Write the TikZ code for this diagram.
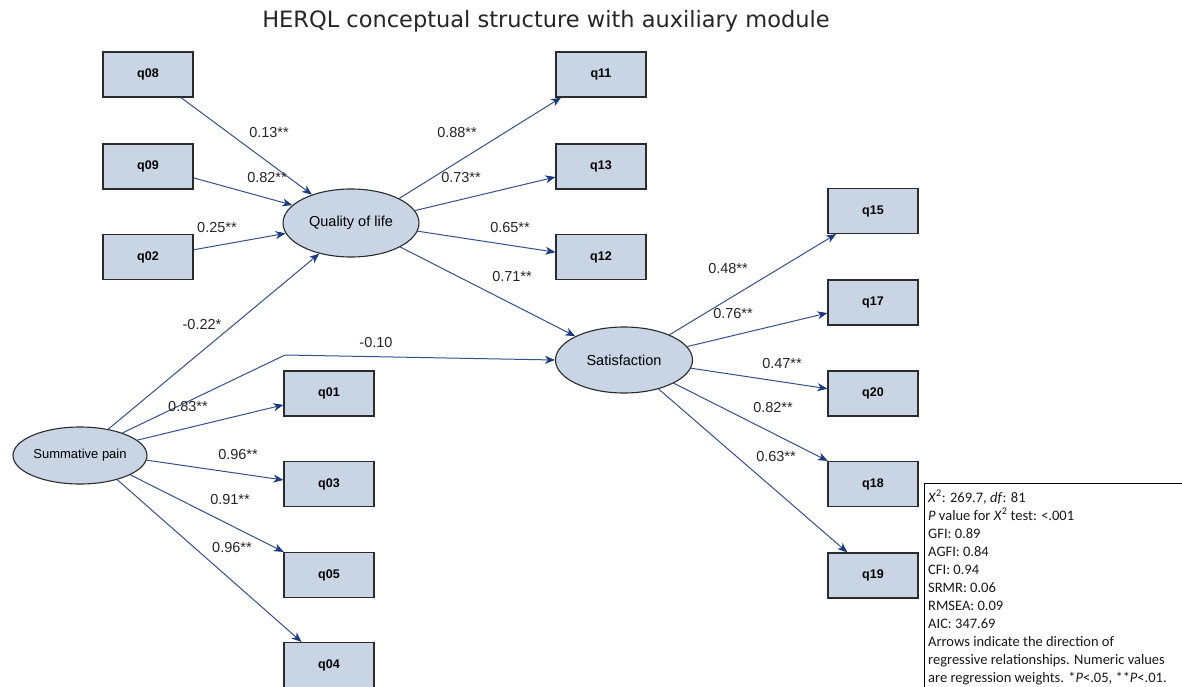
\documentclass[tikz,border=0pt]{standalone}
\usepackage{fontspec}
\setmainfont{Liberation Sans}
\newfontfamily\titlefont{DejaVu Sans}
\newfontfamily\statfont{Carlito}
\usetikzlibrary{shapes.geometric,arrows.meta}
\definecolor{boxfill}{HTML}{C9D5E5}
\definecolor{edgecol}{HTML}{34508A}
\definecolor{tipcol}{HTML}{1B3A80}
\definecolor{bordercol}{HTML}{2B2B2B}
\tikzset{
  obsbox/.style={draw=bordercol, line width=1.1pt, fill=boxfill, minimum width=90pt, minimum height=45pt, inner sep=0pt, font=\fontsize{12.5}{12.5}\selectfont\bfseries},
  latent/.style={ellipse, draw=bordercol, line width=1.1pt, fill=boxfill, inner sep=0pt, font=\fontsize{14.5}{14.5}\selectfont},
  path/.style={draw=edgecol, line width=1pt, -{Stealth[length=10pt,width=8pt,inset=3pt,color=tipcol]}},
  wlab/.style={font=\fontsize{14.5}{14.5}\selectfont, inner sep=0pt, text=black!85},
}
\begin{document}
\begin{tikzpicture}[x=1pt,y=-1pt]
\useasboundingbox (0,0) rectangle (1182,687);
\fill[white] (0,0) rectangle (1182,687);

\node[font=\titlefont\fontsize{22.5}{22.5}\selectfont, text=black!85] (title) at (546,21) {HERQL conceptual structure with auxiliary module};

% latent variables
\node[latent, minimum width=136pt, minimum height=68pt] (qol) at (351,223) {Quality of life};
\node[latent, minimum width=137pt, minimum height=66pt] (sat) at (624,360) {Satisfaction};
\node[latent, minimum width=134pt, minimum height=57pt, font=\fontsize{13}{13}\selectfont] (sp) at (80,455.5) {Summative pain};

% indicators
\node[obsbox] (q08) at (148,74.5) {q08};
\node[obsbox] (q09) at (148,166.5) {q09};
\node[obsbox] (q02) at (148,257) {q02};
\node[obsbox] (q11) at (601,74.5) {q11};
\node[obsbox] (q13) at (601,166.5) {q13};
\node[obsbox] (q12) at (601,257) {q12};
\node[obsbox] (q15) at (873,211) {q15};
\node[obsbox] (q17) at (873,302.5) {q17};
\node[obsbox] (q20) at (873,393.5) {q20};
\node[obsbox] (q18) at (873,484) {q18};
\node[obsbox] (q19) at (873,575.5) {q19};
\node[obsbox] (q01) at (329,393.5) {q01};
\node[obsbox] (q03) at (329,484) {q03};
\node[obsbox] (q05) at (329,575) {q05};
\node[obsbox] (q04) at (329,665) {q04};

% paths into Quality of life
\draw[path] (q08.-35) -- (qol.144);
\draw[path] (q09.-14) -- (qol.163);
\draw[path] (q02.9) -- (qol.189);
\draw[path] (sp.43) -- (qol.224);

% Quality of life loadings
\draw[path] (qol.27) -- (q11.210);
\draw[path] (qol.11) -- (q13.193);
\draw[path] (qol.-7) -- (q12.174);
\draw[path] (qol.-26) -- (sat.154);

% Summative pain
\coordinate (bend) at (285,355);
\draw[path] (sp.28) -- (bend) -- (sat.180);
\draw[path] (sp.15) -- (q01.194);
\draw[path] (sp.-4) -- (q03.175);
\draw[path] (sp.-21) -- (q05.153);
\draw[path] (sp.-33) -- (q04.140);

% Satisfaction loadings
\draw[path] (sat.29) -- (q15.212);
\draw[path] (sat.12) -- (q17.193);
\draw[path] (sat.-7) -- (q20.174);
\draw[path] (sat.-25) -- (q18.153);
\draw[path] (sat.-40) -- (q19.138);

% weights
\node[wlab] (w08) at (269,133) {0.13**};
\node[wlab] (w09) at (267,178) {0.82**};
\node[wlab] (w02) at (217,228) {0.25**};
\node[wlab] (wspq) at (202,325) {-0.22*};
\node[wlab] (wsps) at (376,343) {-0.10};
\node[wlab] (w01) at (188,407) {0.83**};
\node[wlab] (w03) at (238,455) {0.96**};
\node[wlab] (w05) at (230,500) {0.91**};
\node[wlab] (w04) at (232,548) {0.96**};
\node[wlab] (w11) at (457,133) {0.88**};
\node[wlab] (w13) at (461,178) {0.73**};
\node[wlab] (w12) at (510,228) {0.65**};
\node[wlab] (wqs) at (512,277) {0.71**};
\node[wlab] (w15) at (728,269) {0.48**};
\node[wlab] (w17) at (733,314) {0.76**};
\node[wlab] (w20) at (782,364) {0.47**};
\node[wlab] (w18) at (773,408) {0.82**};
\node[wlab] (w19) at (776,457) {0.63**};

% fit statistics
\draw[black, line width=1pt] (924,700) -- (924,483) -- (1190,483);
\node[anchor=north west, inner sep=0pt, align=left, font=\statfont\fontsize{14.5}{18}\selectfont, text=black!90] (stats) at (928,490) {%
\textit{X}\textsuperscript{2}: 269.7, \textit{df}: 81\\
\textit{P} value for \textit{X}\textsuperscript{2} test: <.001\\
GFI: 0.89\\
AGFI: 0.84\\
CFI: 0.94\\
SRMR: 0.06\\
RMSEA: 0.09\\
AIC: 347.69\\
Arrows indicate the direction of\\
regressive relationships. Numeric values\\
are regression weights. *\textit{P}<.05, **\textit{P}<.01.};
\end{tikzpicture}
\end{document}
